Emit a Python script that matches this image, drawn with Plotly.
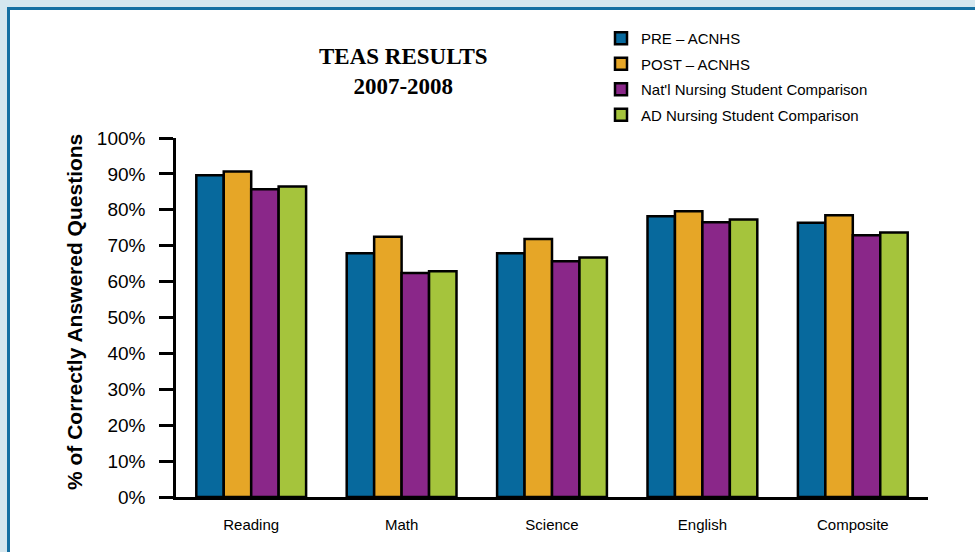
import plotly.graph_objects as go

categories = ["Reading", "Math", "Science", "English", "Composite"]
series_names = ["PRE – ACNHS", "POST – ACNHS", "Nat'l Nursing Student Comparison", "AD Nursing Student Comparison"]
pre_acnhs = [89.6, 67.9, 67.9, 78.2, 76.4]
post_acnhs = [90.7, 72.5, 71.9, 79.6, 78.5]
natl_comparison = [85.7, 62.4, 65.7, 76.5, 72.9]
ad_comparison = [86.5, 62.9, 66.7, 77.3, 73.7]
series_colors = ["#07699d", "#e6a627", "#8a2789", "#a5c43c"]
y_ticks = [0, 10, 20, 30, 40, 50, 60, 70, 80, 90, 100]
y_tick_labels = [f"{v}%" for v in y_ticks]

W, H = 975, 552
L, R, T, B = 176, 47, 138, 55
pw, ph = W - L - R, H - T - B

def px_x(p):
    return (p - L) / pw

def px_y(p):
    return (H - B - p) / ph

fig = go.Figure()
for i, (name, vals) in enumerate(zip(series_names, [pre_acnhs, post_acnhs, natl_comparison, ad_comparison])):
    fig.add_trace(go.Bar(
        x=categories, y=vals, name=name,
        marker=dict(color=series_colors[i], line=dict(color="black", width=2.5)),
        legendgroup=f"g{i}",
    ))

fig.update_layout(
    width=W, height=H,
    margin=dict(l=L, r=R, t=T, b=B),
    paper_bgcolor="#d5e7ef",
    plot_bgcolor="rgba(0,0,0,0)",
    barmode="group",
    bargap=0.27,
    bargroupgap=0,
    font=dict(family="Liberation Sans, Arial, sans-serif", color="black"),
    showlegend=True,
    legend=dict(
        x=px_x(601), y=px_y(22), xanchor="left", yanchor="top",
        bgcolor="rgba(0,0,0,0)", font=dict(size=15, color="black"),
        tracegroupgap=3, traceorder="grouped",
    ),
    xaxis=dict(
        range=[-0.5, 4.5], showline=True, linecolor="black", linewidth=2.5,
        ticks="", showgrid=False, zeroline=False,
        tickfont=dict(size=15, color="black"), ticklabelstandoff=12,
    ),
    yaxis=dict(
        range=[0, 100], tickvals=y_ticks, ticktext=y_tick_labels,
        showline=True, linecolor="black", linewidth=2.5,
        ticks="outside", ticklen=14, tickwidth=2.5, tickcolor="black",
        showgrid=False, zeroline=False,
        tickfont=dict(size=19, color="black"), ticklabelstandoff=10,
    ),
    shapes=[dict(
        type="rect", xref="paper", yref="paper", layer="below",
        x0=px_x(8.5), x1=px_x(990), y0=px_y(570), y1=px_y(8.5),
        fillcolor="white", line=dict(color="#1570a2", width=3),
    )],
    annotations=[
        dict(text="<b>TEAS RESULTS</b><br><b>2007-2008</b>", xref="paper", yref="paper",
             x=px_x(403), y=px_y(72), xanchor="center", yanchor="middle",
             showarrow=False, align="center",
             font=dict(family="Liberation Serif, serif", size=23, color="black")),
        dict(text="<b>% of Correctly Answered Questions</b>", xref="paper", yref="paper",
             x=px_x(74), y=px_y(312), xanchor="center", yanchor="middle",
             textangle=-90, showarrow=False,
             font=dict(family="Liberation Sans, Arial, sans-serif", size=21, color="black")),
    ],
)

fig.write_html("out.html", config={"displayModeBar": False},
               post_script="document.body.style.margin='0';document.body.style.overflow='hidden';")
